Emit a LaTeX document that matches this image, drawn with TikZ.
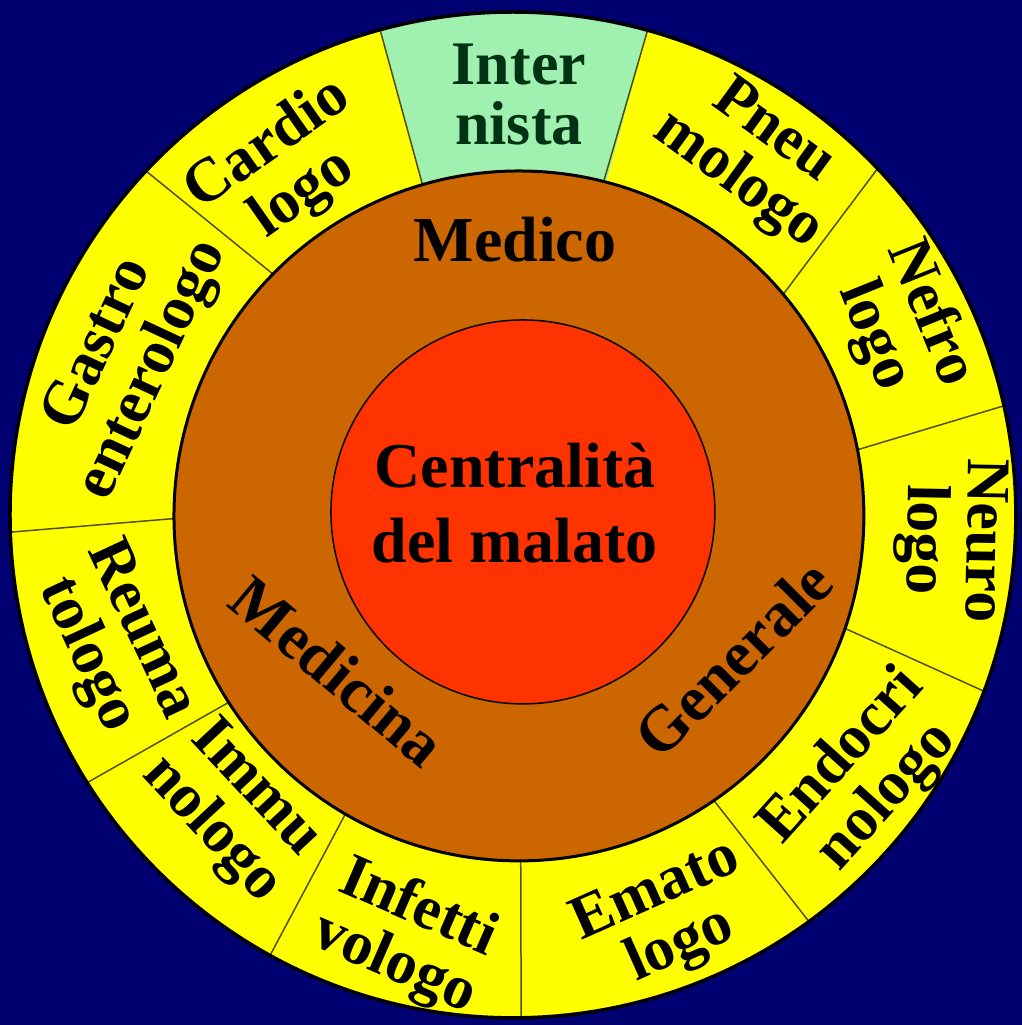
\documentclass[tikz,border=0pt]{standalone}
\usepackage{fontspec}
\setmainfont{Liberation Serif}

\definecolor{navy}{RGB}{0,0,112}
\definecolor{ringyellow}{RGB}{255,255,0}
\definecolor{mint}{RGB}{160,240,176}
\definecolor{medbrown}{RGB}{204,102,0}
\definecolor{centrered}{RGB}{255,51,0}
\definecolor{darkgreen}{RGB}{0,50,20}
\definecolor{divider}{RGB}{80,80,0}

\begin{document}
\begin{tikzpicture}[x=1pt, y=1pt]
        \tikzstyle{ring} = [font=\bfseries\fontsize{62}{60}\selectfont, align=center, inner sep=0pt]
        \tikzstyle{big} = [font=\bfseries\fontsize{64}{75}\selectfont, align=center, inner sep=0pt]
        \tikzstyle{sep} = [draw=divider, line width=1.5pt]

        % background and outer ring
        \fill[navy] (-515,-509) rectangle (507,516);
        \fill[ringyellow] (-2,1) circle (503);
        \begin{scope}
                \clip (-2,1) circle (503);
                \fill[mint] (0,0) -- (74.7:600) -- (90:600) -- (105.5:600) -- cycle;
                \draw[sep] (75.2:330) -- (74.7:515);
                \draw[sep] (105.6:330) -- (105.5:515);
                \draw[sep] (38.8:330) -- (44.0:515);
                \draw[sep] (10.6:330) -- (12.8:515);
                \draw[sep] (-18.5:330) -- (-20.6:515);
                \draw[sep] (-55.2:330) -- (-54.0:515);
                \draw[sep] (-89.0:330) -- (-89.3:515);
                \draw[sep] (-119.7:330) -- (-119.1:515);
                \draw[sep] (-146.8:330) -- (-148.1:515);
                \draw[sep] (-179.7:330) -- (-178.1:515);
                \draw[sep] (134.8:330) -- (137.0:515);
        \end{scope}
        \draw[line width=3.5pt] (-2,1) circle (503);

        % Medicina Generale and the centre
        \draw[fill=medbrown, line width=3pt] (4,0) circle (345);
        \draw[fill=centrered, line width=1.5pt] (8,4) circle (192);

        \node[ring, text=darkgreen] (1) at (4,421) {Inter\\nista};
        \node[ring, rotate=-36] (2) at (240,359) {Pneu\\mologo};
        \node[ring, rotate=-68] (3) at (387,191) {Nefro\\logo};
        \node[ring, rotate=-91] (4) at (436,-24) {Neuro\\logo};
        \node[ring, rotate=48] (5) at (350,-261) {Endocri\\nologo};
        \node[ring, rotate=24] (6) at (154,-404) {Emato\\logo};
        \node[ring, rotate=-23.5] (7) at (-109,-421) {Infetti\\vologo};
        \node[ring, rotate=-47] (8) at (-282,-294) {Immu\\nologo};
        \node[ring, rotate=-65] (9) at (-402,-127) {Reuma\\tologo};
        \node[ring, rotate=65] (10) at (-388,158) {Gastro\\enterologo};
        \node[ring, rotate=35] (11) at (-229,346) {Cardio\\logo};

        \node[big, anchor=base] (medico) at (0,254) {Medico};
        \node[big, anchor=base, rotate=-40] (medicina) at (-191,-172) {Medicina};
        \node[big, anchor=base, rotate=45] (generale) at (234,-158) {Generale};
        \node[big] (centro) at (0,13) {Centralità\\del malato};
\end{tikzpicture}
\end{document}
